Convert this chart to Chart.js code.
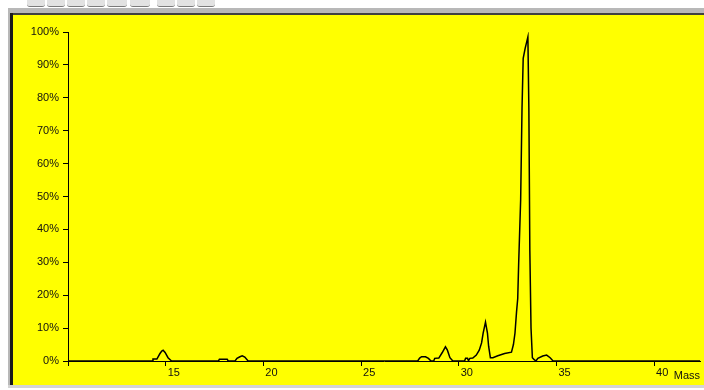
<!DOCTYPE html>
<html>
<head>
<meta charset="utf-8">
<script src="https://cdn.jsdelivr.net/npm/chart.js@4.4.1/dist/chart.umd.min.js"></script>
<style>
  html, body { margin: 0; padding: 0; background: #ffffff; width: 704px; height: 390px; overflow: hidden; }
  .abs { position: absolute; }
  #wrap { position: absolute; left: 13px; top: 15px; width: 691px; height: 370px; background: #ffff00; }
  .tab { position: absolute; top: 0; height: 6px; background: #e2e2e2; border-bottom: 1px solid #7a7a7a; border-radius: 0 0 3px 3px; }
</style>
</head>
<body>
<div class="tab" style="left:27px;width:18px"></div>
<div class="tab" style="left:47px;width:18px"></div>
<div class="tab" style="left:67px;width:18px"></div>
<div class="tab" style="left:87px;width:18px"></div>
<div class="tab" style="left:107px;width:20px"></div>
<div class="tab" style="left:130px;width:20px"></div>
<div class="tab" style="left:157px;width:18px"></div>
<div class="tab" style="left:177px;width:18px"></div>
<div class="tab" style="left:197px;width:18px"></div>
<div class="abs" style="left:8px;top:8px;width:696px;height:5px;background:#b8b8b8"></div>
<div class="abs" style="left:10px;top:13px;width:694px;height:2px;background:#404040"></div>
<div class="abs" style="left:8px;top:8px;width:2px;height:380px;background:#b8b8b8"></div>
<div class="abs" style="left:10px;top:13px;width:3px;height:372px;background:#1a1a1a"></div>
<div class="abs" style="left:8px;top:385px;width:696px;height:3px;background:#d4d4d4"></div>
<div id="wrap"><canvas id="c" width="691" height="370"></canvas></div>
<script>
// Mass axis ticks
const massTicks = [10, 15, 20, 25, 30, 35, 40];
// Percent axis ticks
const pctTicks = [0, 10, 20, 30, 40, 50, 60, 70, 80, 90, 100];

// Spectrum trace (mass, relative intensity %)
const masses = [
  10.0, 14.3, 14.35, 14.55, 14.7, 14.8, 14.87, 14.97, 15.12, 15.3,
  17.7, 17.75, 18.15, 18.2,
  18.55, 18.65, 18.8, 18.92, 19.05, 19.22,
  27.9, 28.0, 28.1, 28.3, 28.45, 28.58,
  28.72, 28.77, 28.98, 29.15, 29.32, 29.42, 29.55, 29.7,
  30.3, 30.35, 30.45, 30.5, 30.57, 30.72, 30.9, 31.05, 31.17, 31.25, 31.37, 31.47, 31.53, 31.62,
  31.75, 32.0, 32.35, 32.7, 32.8, 32.88, 32.96, 33.02, 33.07, 33.17, 33.24, 33.3, 33.4, 33.48, 33.54,
  33.59, 33.64, 33.7, 33.77, 33.85, 33.95,
  34.05, 34.3, 34.5, 34.68, 34.83, 42.35
];
const intensity = [
  0, 0, 0.6, 0.6, 2.2, 3.0, 3.3, 2.6, 1.0, 0,
  0, 0.5, 0.5, 0,
  0, 0.8, 1.3, 1.6, 1.2, 0,
  0, 0.9, 1.3, 1.3, 0.8, 0,
  0, 0.8, 0.9, 2.5, 4.3, 3.3, 1.0, 0,
  0, 0.8, 0.8, 0.1, 0.8, 0.9, 1.8, 3.3, 5.5, 8.5, 11.8, 8.5, 4.5, 1.0,
  1.0, 1.6, 2.3, 2.7, 5.0, 8.5, 15, 19, 30, 49, 77, 92, 95, 97, 98.5,
  77, 33.6, 10, 1.0, 0.5, 0,
  0.8, 1.5, 1.8, 1.0, 0, 0
];

const points = masses.map((m, i) => ({ x: m, y: intensity[i] }));
const FONT = { family: '"Liberation Sans", Arial, sans-serif', size: 11 };
const INK = '#111111';

new Chart(document.getElementById('c'), {
  type: 'line',
  data: {
    datasets: [{
      data: points,
      borderColor: '#000000',
      borderWidth: 1.5,
      pointRadius: 0,
      tension: 0,
      fill: false
    }]
  },
  options: {
    responsive: false,
    animation: false,
    events: [],
    layout: { padding: { top: 17, right: 4, left: 0, bottom: 0 } },
    plugins: { legend: { display: false }, tooltip: { enabled: false } },
    scales: {
      x: {
        type: 'linear',
        min: 10,
        max: 42.35,
        afterBuildTicks: (s) => { s.ticks = massTicks.map(v => ({ value: v })); },
        afterFit: (s) => { s.height = 24; s.paddingLeft = 0; s.paddingRight = 0; },
        grid: { drawOnChartArea: false, drawTicks: true, tickLength: 5, tickColor: '#000', tickWidth: 1 },
        border: { display: true, color: '#000', width: 1 },
        ticks: {
          align: 'start',
          labelOffset: 2,
          padding: 0,
          maxRotation: 0,
          autoSkip: false,
          color: INK,
          font: FONT,
          callback: (v) => v === 10 ? '' : String(v)
        },
        title: {
          display: true,
          text: 'Mass',
          align: 'end',
          color: INK,
          font: FONT,
          padding: { top: 0, bottom: 2 }
        }
      },
      y: {
        min: 0,
        max: 100,
        afterBuildTicks: (s) => { s.ticks = pctTicks.map(v => ({ value: v })); },
        afterFit: (s) => { s.width = 55; s.paddingTop = 0; s.paddingBottom = 0; },
        grid: { drawOnChartArea: false, drawTicks: true, tickLength: 5, tickColor: '#000', tickWidth: 1 },
        border: { display: true, color: '#000', width: 1 },
        ticks: {
          padding: 4,
          color: INK,
          font: FONT,
          callback: (v) => v + '%'
        }
      }
    }
  }
});
</script>
</body>
</html>
